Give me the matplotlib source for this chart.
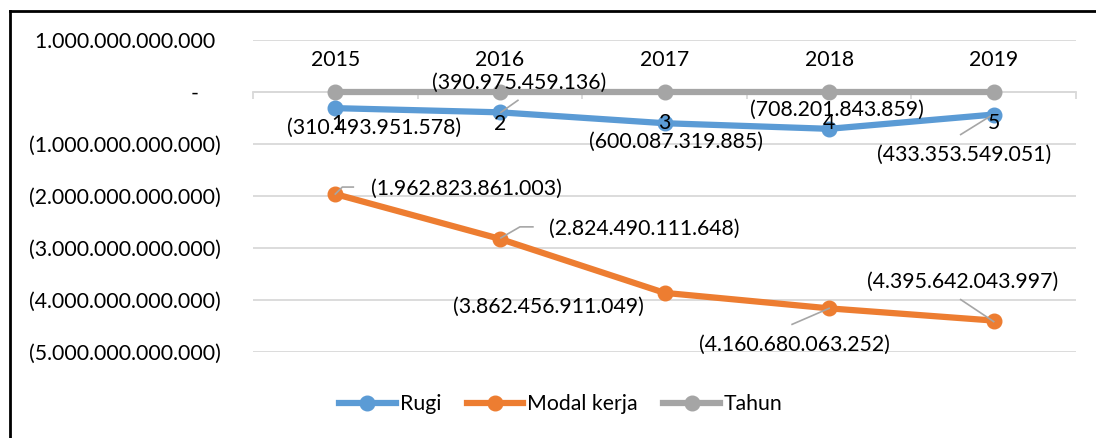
import matplotlib.pyplot as plt
from matplotlib.lines import Line2D
from matplotlib.transforms import IdentityTransform

plt.rcParams['font.family'] = ['Lato', 'DejaVu Sans']

# data
years = ["2015", "2016", "2017", "2018", "2019"]
rugi = [-310493951578, -390975459136, -600087319885, -708201843859, -433353549051]
modal_kerja = [-1962823861003, -2824490111648, -3862456911049, -4160680063252, -4395642043997]
tahun = [1, 2, 3, 4, 5]

y_ticks = [1e12, 0, -1e12, -2e12, -3e12, -4e12, -5e12]
y_tick_labels = ["1.000.000.000.000 ", "-    ", "(1.000.000.000.000)", "(2.000.000.000.000)",
                 "(3.000.000.000.000)", "(4.000.000.000.000)", "(5.000.000.000.000)"]


def fmt_label(v):
    s = f"{abs(v):,.0f}".replace(",", ".")
    return f"({s})" if v < 0 else s


# label offsets in pixels (dx, dy) relative to the point
rugi_offsets = [(39, -20), (19, 29), (12, -19), (8, 19), (-30, -40)]
modal_offsets = [(131, 5), (144, 10), (-116, -14), (-35, -37), (-31, 39)]
tahun_offsets = [(2, -32), (0, -32), (0, -31), (0, -31), (0, -31)]

# leader lines: series, index, vertices (pixel offsets from the point)
leaders = [
    ("rugi", 1, [(1, 0), (18, 12)]),
    ("rugi", 4, [(-4, -2), (-33, -20)]),
    ("modal", 0, [(0, 0), (7, 7), (18, 7)]),
    ("modal", 1, [(1, 1), (20, 12), (33, 12)]),
    ("modal", 3, [(0, 0), (-37, -16)]),
    ("modal", 4, [(0, -1), (-33, 21)]),
]

BLUE = "#5B9BD5"
ORANGE = "#ED7D31"
GRAY = "#A5A5A5"
GRID = "#D9D9D9"
FS = 15.3

fig = plt.figure(figsize=(10.96, 4.38), dpi=100)
ax = fig.add_axes([253 / 1096, 1 - 352 / 438, (1076 - 253) / 1096, (352 - 40) / 438])

x = list(range(len(years)))
ax.plot(x, tahun, color=GRAY, lw=4.5, marker="o", ms=10.5, label="Tahun", zorder=3)
ax.plot(x, rugi, color=BLUE, lw=4.5, marker="o", ms=10.5, label="Rugi", zorder=4)
ax.plot(x, modal_kerja, color=ORANGE, lw=4.5, marker="o", ms=10.5, label="Modal kerja", zorder=4)

ax.set_xlim(-0.5, len(years) - 0.5)
ax.set_ylim(-5e12, 1e12)
ax.set_yticks(y_ticks)
ax.set_yticklabels(y_tick_labels, fontsize=FS)
ax.tick_params(axis="y", length=0, pad=23)
ax.grid(axis="y", color=GRID, lw=1.3)
ax.set_axisbelow(True)

for s in ["top", "right", "left"]:
    ax.spines[s].set_visible(False)
ax.spines["bottom"].set_position(("data", 0))
ax.spines["bottom"].set_color(GRID)
ax.spines["bottom"].set_linewidth(1.3)
ax.set_xticks([i - 0.5 for i in range(len(years) + 1)])
ax.set_xticklabels([])
ax.tick_params(axis="x", direction="out", length=5, width=1.3, color=GRID)

for i, yr in enumerate(years):
    ax.annotate(yr, (i, 0), xytext=(0, 32), textcoords="offset pixels",
                ha="center", va="center", fontsize=FS)

for vals, offs, texts in [(rugi, rugi_offsets, [fmt_label(v) for v in rugi]),
                          (modal_kerja, modal_offsets, [fmt_label(v) for v in modal_kerja]),
                          (tahun, tahun_offsets, [str(v) for v in tahun])]:
    for i, (v, (dx, dy), t) in enumerate(zip(vals, offs, texts)):
        ax.annotate(t, (i, v), xytext=(dx, dy), textcoords="offset pixels",
                    ha="center", va="center", fontsize=FS, zorder=6)

# leader lines drawn in pixel space around each point
series = {"rugi": rugi, "modal": modal_kerja}
for name, i, verts in leaders:
    px, py = ax.transData.transform((i, series[name][i]))
    xs = [px + dx for dx, dy in verts]
    ys = [py + dy for dx, dy in verts]
    fig.add_artist(Line2D(xs, ys, transform=IdentityTransform(),
                          color="#A6A6A6", lw=1.2, zorder=5))

h, l = ax.get_legend_handles_labels()
order = [1, 2, 0]
fig.legend([h[k] for k in order], [l[k] for k in order], ncol=3, loc="center",
           bbox_to_anchor=(561 / 1096, 1 - 404 / 438), frameon=False, fontsize=FS,
           handlelength=2.65, handletextpad=0.2, columnspacing=1.2)

# outer chart border (top and left visible)
fig.add_artist(Line2D([10 / 1096, 1], [1 - 11 / 438, 1 - 11 / 438], color="black", lw=2))
fig.add_artist(Line2D([10 / 1096, 10 / 1096], [0, 1 - 11 / 438], color="black", lw=2))

fig.savefig("out.png", dpi=100)
